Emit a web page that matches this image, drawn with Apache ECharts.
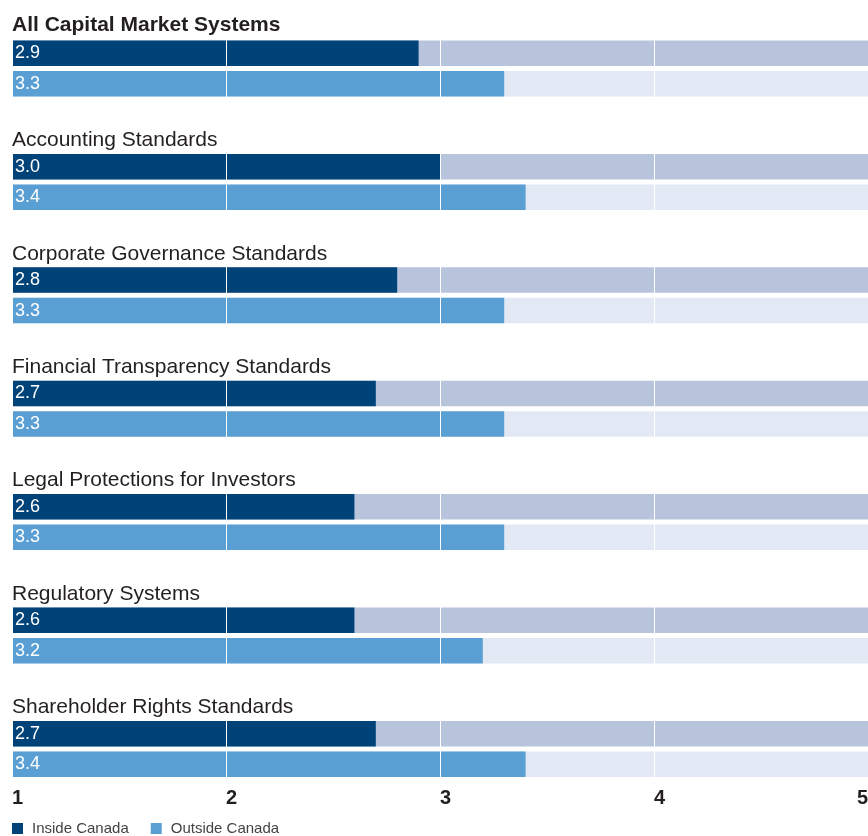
<!DOCTYPE html>
<html><head><meta charset="utf-8">
<script src="https://cdn.jsdelivr.net/npm/echarts@6/dist/echarts.min.js"></script>
<style>html,body{margin:0;padding:0;background:#fff}#c{width:868px;height:836px}</style>
</head><body><div id="c"></div>
<script>
const categories = ['All Capital Market Systems', 'Accounting Standards', 'Corporate Governance Standards', 'Financial Transparency Standards', 'Legal Protections for Investors', 'Regulatory Systems', 'Shareholder Rights Standards'];
const insideCanada = [2.9, 3.0, 2.8, 2.7, 2.6, 2.6, 2.7];
const outsideCanada = [3.3, 3.4, 3.3, 3.3, 3.3, 3.2, 3.4];
const seriesNames = ['Inside Canada', 'Outside Canada'];
const axisMin = 1, axisMax = 5;
const tickLabels = ['1', '2', '3', '4', '5'];

const FONT = '"Liberation Sans", Arial, sans-serif';
const C_IN = '#004379', C_OUT = '#5a9fd4', T_IN = '#b7c4dc', T_OUT = '#e2e9f5';
const G0 = 40.5, GSTEP = 113.4, BAND = 30.5, BARW = 25.5;

const grids = [], xAxes = [], yAxes = [], series = [], titles = [];
const valLabel = {show: true, position: 'insideLeft', distance: 3, color: '#fff', fontFamily: FONT, fontSize: 18,
  formatter: p => (typeof p.value === 'number' ? p.value.toFixed(1) : '')};
categories.forEach((cat, i) => {
  const top = G0 + GSTEP * i;
  const last = i === categories.length - 1;
  grids.push({left: 12, right: 0, top: top - (BAND - BARW) / 2, height: BAND * 2,
    containLabel: false, outerBoundsMode: 'none'});
  xAxes.push({gridIndex: i, type: 'value', min: axisMin, max: axisMax, interval: 1, z: 5,
    axisLine: {show: false}, axisTick: {show: false},
    splitLine: {show: true, lineStyle: {color: '#ffffff', width: 1}},
    axisLabel: {show: last, color: '#231f20', fontFamily: FONT, fontWeight: 'bold', fontSize: 20, margin: 9,
      align: 'left', alignMaxLabel: 'right', formatter: v => tickLabels[Math.round(v) - axisMin]}});
  yAxes.push({gridIndex: i, type: 'category', data: seriesNames, inverse: true, show: false});
  titles.push({text: cat, left: 12, top: top - (i === 0 ? 26 : 24), padding: 0,
    textStyle: {fontFamily: FONT, fontSize: 21, fontWeight: i === 0 ? 'bold' : 'normal', color: '#231f20'}});
  series.push({type: 'bar', name: 'track', xAxisIndex: i, yAxisIndex: i, barWidth: BARW, barGap: '-100%', silent: true,
    data: [{value: axisMax, itemStyle: {color: T_IN}}, {value: axisMax, itemStyle: {color: T_OUT}}]});
  series.push({type: 'bar', name: seriesNames[0], xAxisIndex: i, yAxisIndex: i, barWidth: BARW, barGap: '-100%',
    itemStyle: {color: C_IN}, label: valLabel, data: [insideCanada[i], '-']});
  series.push({type: 'bar', name: seriesNames[1], xAxisIndex: i, yAxisIndex: i, barWidth: BARW, barGap: '-100%',
    itemStyle: {color: C_OUT}, label: valLabel, data: ['-', outsideCanada[i]]});
});

const chart = echarts.init(document.getElementById('c'), null, {renderer: 'canvas'});
chart.setOption({
  animation: false,
  backgroundColor: '#ffffff',
  title: titles,
  grid: grids,
  xAxis: xAxes,
  yAxis: yAxes,
  legend: {data: seriesNames.map(n => ({name: n, icon: 'rect'})), left: 12, top: 821, itemWidth: 11, itemHeight: 11,
    itemGap: 22, padding: 0, selectedMode: false,
    textStyle: {fontFamily: FONT, fontSize: 15, color: '#444', padding: [0, 0, 0, 4]}},
  series: series
});
</script></body></html>
